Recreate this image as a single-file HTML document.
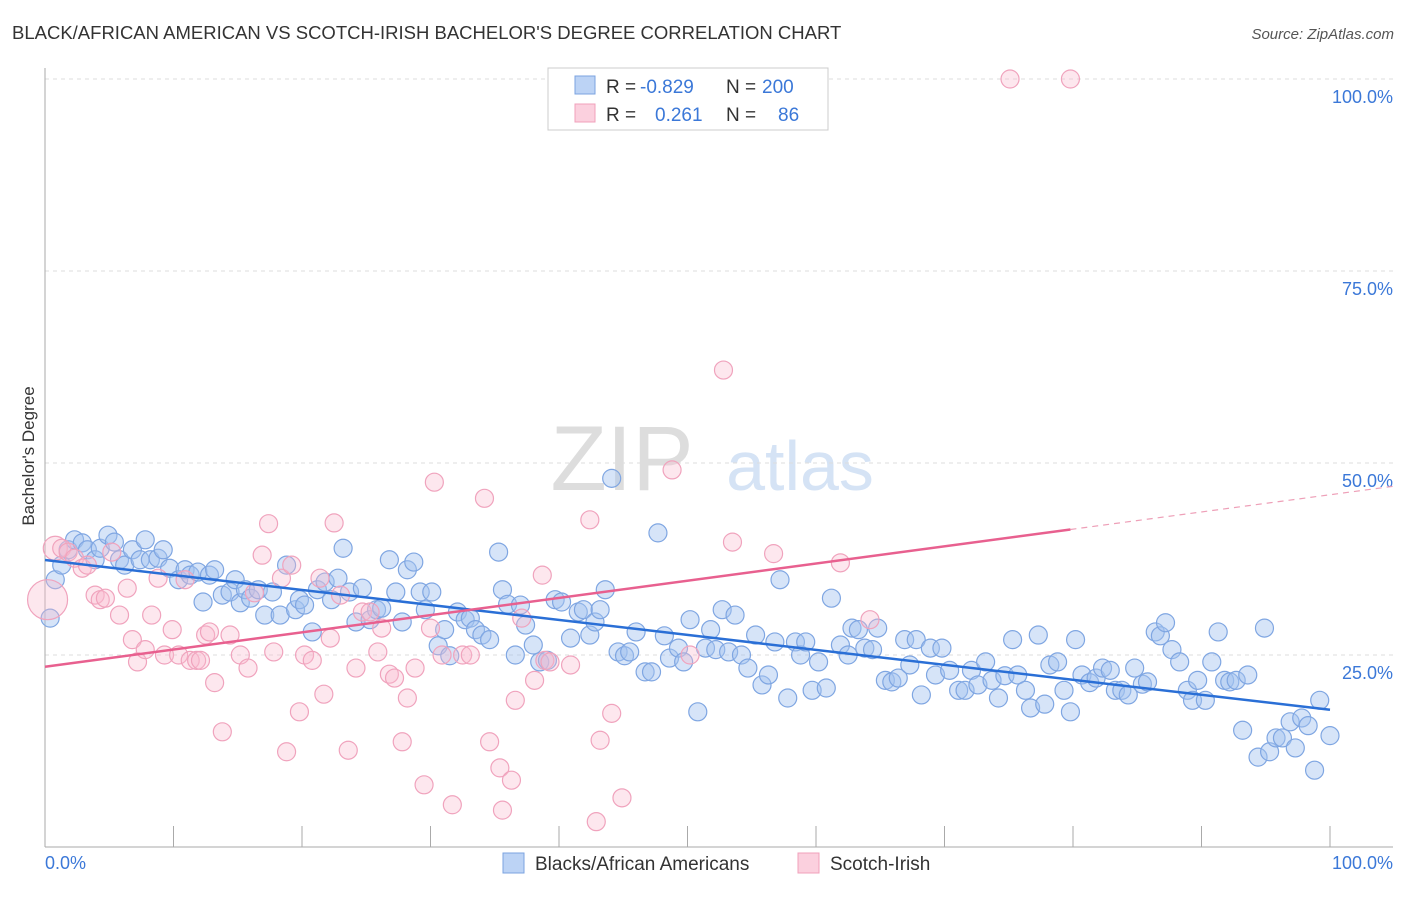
<!DOCTYPE html>
<html><head><meta charset="utf-8"><style>
body{margin:0;background:#fff;font-family:"Liberation Sans",sans-serif;}
svg text{font-family:"Liberation Sans",sans-serif;}
</style></head><body>
<svg id="chart" width="1406" height="892" viewBox="0 0 1406 892">
<text x="12" y="39" font-size="18.5" fill="#333">BLACK/AFRICAN AMERICAN VS SCOTCH-IRISH BACHELOR'S DEGREE CORRELATION CHART</text>
<text x="1394" y="39" font-size="15" fill="#555" font-style="italic" text-anchor="end">Source: ZipAtlas.com</text>
<g>
<text x="622" y="490" font-size="92" fill="#ddd" font-family="Liberation Serif" text-anchor="middle">ZIP</text>
<text x="800" y="490" font-size="70" fill="#d5e3f5" text-anchor="middle">atlas</text>
</g>
<g id="grid"></g>
<g id="axes"></g>
<g id="pts"></g>
<g id="lines"></g>
<text transform="translate(34,456) rotate(-90)" font-size="17" fill="#333" text-anchor="middle">Bachelor's Degree</text>
<text x="45" y="869" font-size="18" fill="#3b78d8">0.0%</text>
<text x="1393" y="869" font-size="18" fill="#3b78d8" text-anchor="end">100.0%</text>
<g>
<rect x="548" y="68" width="280" height="62" fill="#fff" stroke="#ccc"/>
<rect x="575" y="76" width="20" height="18" fill="#bcd3f5" stroke="#7ba3e0"/>
<rect x="575" y="104" width="20" height="18" fill="#fbd0de" stroke="#f0a0bb"/>
<text x="606" y="93" font-size="19" fill="#333">R =<tspan fill="#3b78d8" x="640">-0.829</tspan><tspan x="726">N =</tspan><tspan fill="#3b78d8" x="762">200</tspan></text>
<text x="606" y="121" font-size="19" fill="#333">R =<tspan fill="#3b78d8" x="655">0.261</tspan><tspan x="726">N =</tspan><tspan fill="#3b78d8" x="778">86</tspan></text>
</g>
<g>
<rect x="503" y="853" width="21" height="20" fill="#bcd3f5" stroke="#7ba3e0"/>
<text x="535" y="870" font-size="19" fill="#333">Blacks/African Americans</text>
<rect x="798" y="853" width="21" height="20" fill="#fbd0de" stroke="#f0a0bb"/>
<text x="830" y="870" font-size="19" fill="#333">Scotch-Irish</text>
</g>
</svg>
<script>
const yTicks=[25,50,75,100];
const yTickLabels=["25.0%","50.0%","75.0%","100.0%"];
const xTicks=[0,10,20,30,40,50,60,70,80,90,100];
const blueX=[0.4,0.8,1.3,1.8,2.3,2.9,3.3,3.9,4.3,4.9,5.4,5.8,6.2,6.8,7.4,7.8,8.2,8.8,9.2,9.7,10.4,10.9,11.3,11.9,12.3,12.8,13.2,13.8,14.4,14.8,15.2,15.6,16.0,16.6,17.1,17.7,18.3,18.8,19.5,19.8,20.2,20.8,21.2,21.8,22.3,22.8,23.2,23.7,24.2,24.7,25.3,25.8,26.2,26.8,27.3,27.8,28.2,28.7,29.2,29.6,30.1,30.6,31.1,31.5,32.1,32.7,33.1,33.5,34.0,34.6,35.3,35.6,36.0,36.6,37.0,37.4,38.0,38.5,39.1,39.7,40.2,40.9,41.5,41.9,42.4,42.8,43.2,43.6,44.1,44.6,45.1,45.5,46.0,46.7,47.2,47.7,48.2,48.6,49.3,49.7,50.2,50.8,51.4,51.8,52.2,52.7,53.2,53.7,54.2,54.7,55.3,55.8,56.3,56.8,57.2,57.8,58.4,58.8,59.2,59.7,60.2,60.8,61.2,61.9,62.5,62.8,63.3,63.8,64.4,64.8,65.4,65.9,66.4,66.9,67.3,67.8,68.2,68.9,69.3,69.8,70.4,71.1,71.6,72.1,72.6,73.2,73.7,74.2,74.7,75.3,75.7,76.3,76.7,77.3,77.8,78.2,78.8,79.3,79.8,80.2,80.7,81.3,81.8,82.3,82.9,83.3,83.8,84.3,84.8,85.4,85.8,86.4,86.8,87.2,87.7,88.3,88.9,89.3,89.7,90.3,90.8,91.3,91.8,92.2,92.7,93.2,93.6,94.4,94.9,95.3,95.8,96.3,96.9,97.3,97.8,98.3,98.8,99.2,100.0];
const blueY=[29.8,34.8,36.7,38.7,40.0,39.6,38.7,37.4,38.9,40.6,39.7,37.4,36.7,38.7,37.4,40.0,37.4,37.6,38.7,36.3,34.8,36.1,35.4,35.8,31.9,35.4,36.1,32.8,33.2,34.8,31.8,33.5,32.4,33.5,30.2,33.2,30.2,36.7,30.9,32.2,31.5,28.0,33.5,34.5,32.2,35.0,38.9,33.2,29.3,33.7,29.6,30.9,31.1,37.4,33.2,29.3,36.1,37.1,33.2,30.9,33.2,26.2,28.3,24.9,30.6,29.6,29.8,28.3,27.6,27.0,38.4,33.5,31.6,25.0,31.5,28.9,26.3,24.1,24.3,32.2,31.9,27.2,30.6,30.9,27.6,29.3,30.9,33.5,48.0,25.4,24.9,25.4,28.0,22.8,22.8,40.9,27.5,24.6,25.9,24.1,29.6,17.6,25.9,28.3,25.7,30.9,25.4,30.2,25.0,23.3,27.6,21.1,22.4,26.7,34.8,19.4,26.7,25.0,26.7,20.4,24.1,20.7,32.4,26.3,25.0,28.5,28.3,25.9,25.7,28.5,21.7,21.5,22.0,27.0,23.7,27.0,19.8,25.9,22.4,25.9,23.0,20.4,20.4,23.0,21.1,24.1,21.7,19.4,22.3,27.0,22.4,20.4,18.1,27.6,18.6,23.7,24.1,20.4,17.6,27.0,22.4,21.4,22.0,23.3,23.0,20.4,20.4,19.8,23.3,21.2,21.5,28.0,27.5,29.2,25.7,24.1,20.4,19.1,21.7,19.1,24.1,28.0,21.7,21.5,21.7,15.2,22.4,11.7,28.5,12.4,14.2,14.2,16.3,12.9,16.8,15.8,10.0,19.1,14.5];
const pinkX=[0.2,0.8,1.3,1.8,2.3,2.9,3.3,3.9,4.3,4.7,5.2,5.8,6.4,6.8,7.2,7.8,8.3,8.8,9.3,9.9,10.4,10.9,11.3,11.8,12.1,12.5,12.8,13.2,13.8,14.4,15.2,15.8,16.3,16.9,17.4,17.8,18.4,18.8,19.2,19.8,20.2,20.8,21.4,21.7,22.2,22.5,23.0,23.6,24.2,24.7,25.3,25.9,26.2,26.8,27.2,27.8,28.2,28.8,29.5,30.0,30.3,30.9,31.7,32.5,33.1,34.2,34.6,35.4,35.6,36.3,36.6,37.1,38.1,38.7,38.9,39.3,40.9,42.4,42.9,43.2,44.1,44.9,48.8,50.2,52.8,53.5,56.7,61.9,64.2,75.1,79.8];
const pinkY=[32.2,38.9,38.9,38.4,37.6,36.3,36.7,32.8,32.2,32.4,38.4,30.2,33.7,27.0,24.1,25.7,30.2,35.0,25.0,28.3,25.0,34.8,24.3,24.3,24.3,27.6,28.0,21.4,15.0,27.6,25.0,23.3,33.1,38.0,42.1,25.4,35.0,12.4,36.7,17.6,25.0,24.3,35.0,19.9,27.2,42.2,32.8,12.6,23.3,30.6,30.6,25.4,28.5,22.5,22.0,13.7,19.4,23.3,8.1,28.5,47.5,25.0,5.5,25.0,25.0,45.4,13.7,10.3,4.8,8.7,19.1,29.8,21.7,35.4,24.3,24.1,23.7,42.6,3.3,13.9,17.4,6.4,49.1,25.0,62.1,39.7,38.2,37.0,29.6,100,100];

const NS='http://www.w3.org/2000/svg';
const X=v=>45+v*12.85;
const Y=v=>847-v*7.68;
function mk(tag,attrs,parent){const e=document.createElementNS(NS,tag);for(const k in attrs)e.setAttribute(k,attrs[k]);parent.appendChild(e);return e;}
const grid=document.getElementById('grid'),axes=document.getElementById('axes'),pts=document.getElementById('pts'),lines=document.getElementById('lines');
yTicks.forEach((t,i)=>{
  const l=mk('line',{x1:45,x2:1393,y1:Y(t),y2:Y(t),stroke:'#ddd','stroke-dasharray':'4,4'},grid);
  
  
  const tx=mk('text',{x:1393,y:Y(t)+24,'font-size':18,fill:'#3b78d8','text-anchor':'end'},grid);
  tx.textContent=yTickLabels[i];
  
  
});
mk('line',{x1:45,x2:45,y1:68,y2:847,stroke:'#aaa'},axes);
mk('line',{x1:45,x2:1393,y1:847,y2:847,stroke:'#aaa'},axes);
xTicks.forEach(t=>{
  const l=mk('line',{x1:X(t),x2:X(t),y1:826,y2:847,stroke:'#aaa'},axes);
  
  
});
function dots(xs,ys,fill,stroke,name){
  xs.forEach((v,i)=>{
    let r=9;
    if(name==='pink-point'&&i===0)r=20;
    if(name==='pink-point'&&i===1)r=12;
    const c=mk('circle',{cx:X(v),cy:Y(ys[i]),r:r,fill:fill,stroke:stroke,'stroke-width':1.2},pts);
    
    
  });
}
dots(blueX,blueY,'rgba(165,195,240,0.45)','#7fa6e2','blue-point');
dots(pinkX,pinkY,'rgba(248,185,205,0.35)','#f0a3bd','pink-point');
function fit(xs,ys){const n=xs.length;let sx=0,sy=0,sxx=0,sxy=0;for(let i=0;i<n;i++){sx+=xs[i];sy+=ys[i];sxx+=xs[i]*xs[i];sxy+=xs[i]*ys[i];}const b=(n*sxy-sx*sy)/(n*sxx-sx*sx);return [ (sy-b*sx)/n,b];}
const [ab,bb]=fit(blueX,blueY);
const bl=mk('line',{x1:X(0),y1:Y(ab),x2:X(100),y2:Y(ab+bb*100),stroke:'#2a6fd6','stroke-width':2.5},lines);


const [ap,bp]=fit(pinkX,pinkY);
const xm=Math.max(...pinkX);
const pl=mk('line',{x1:X(0),y1:Y(ap),x2:X(xm),y2:Y(ap+bp*xm),stroke:'#e8608f','stroke-width':2.5},lines);


const pd=mk('line',{x1:X(xm),y1:Y(ap+bp*xm),x2:1393,y2:Y(ap+bp*((1393-45)/12.85)),stroke:'#eea0b8','stroke-width':1.2,'stroke-dasharray':'6,5'},lines);


</script>
</body></html>
